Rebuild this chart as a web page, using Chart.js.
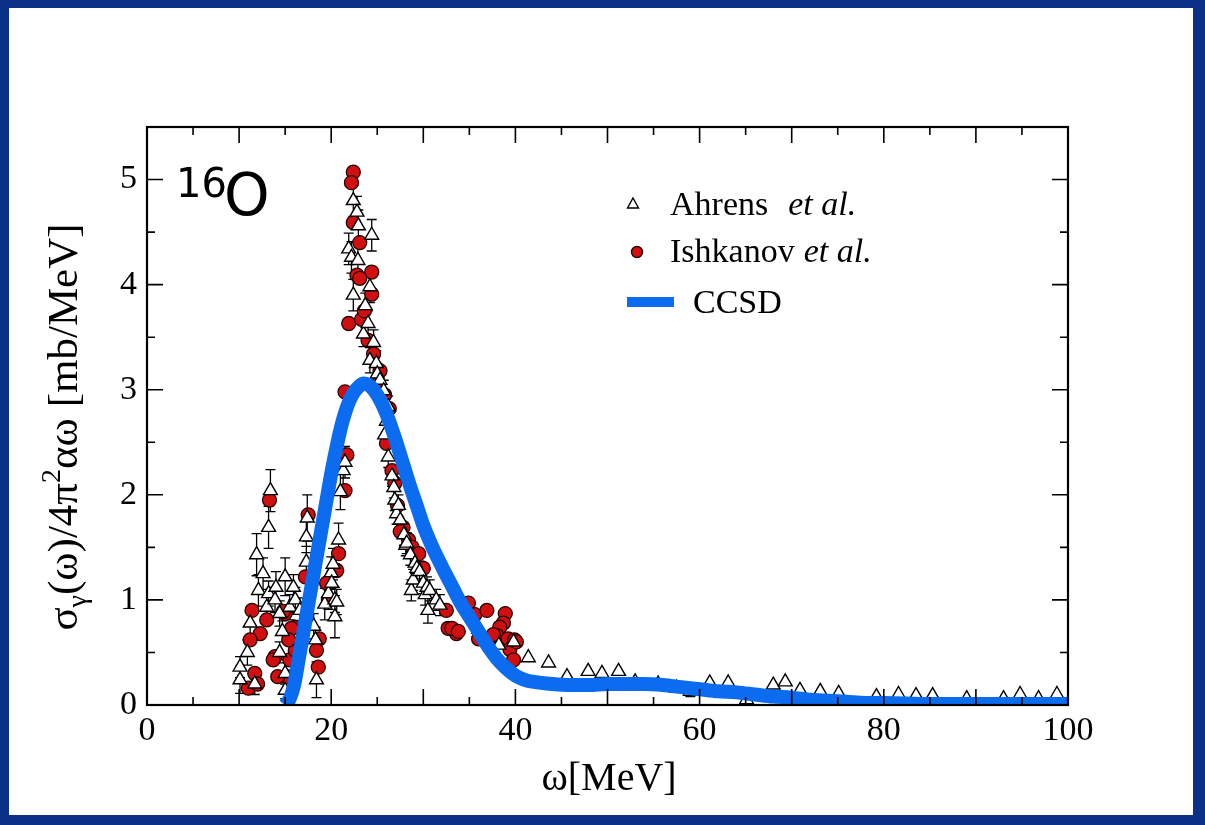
<!DOCTYPE html>
<html>
<head>
<meta charset="utf-8">
<script src="https://cdn.jsdelivr.net/npm/chart.js@4.4.1/dist/chart.umd.min.js"></script>
<style>
html, body { margin: 0; padding: 0; background: #0a3185; }
#wrap { position: relative; width: 1205px; height: 825px; overflow: hidden; }
#panel { position: absolute; left: 9px; top: 8px; width: 1184px; height: 807px; background: #fff; }
#c { position: absolute; left: 0; top: 0; }
</style>
</head>
<body>
<div id="wrap">
  <div id="panel"></div>
  <canvas id="c" width="1205" height="825"></canvas>
</div>
<script>
'use strict';

// axis ticks
var xTicks = [0, 20, 40, 60, 80, 100];
var yTicks = [0, 1, 2, 3, 4, 5];

// CCSD curve
var ccsdOmega = [15, 15.5, 16, 16.5, 17, 17.5, 18, 18.5, 19, 19.5, 20, 20.5, 21, 21.5, 22, 22.5, 23, 23.5, 24, 24.5,
  25, 25.5, 26, 26.5, 27, 27.5, 28, 28.5, 29, 29.5, 30, 31, 32, 33, 34, 35, 36, 37, 38, 39, 40, 41, 42, 44, 46, 48,
  50, 52, 54, 56, 58, 60, 62, 64, 66, 68, 70, 72, 74, 76, 78, 80, 85, 90, 95, 100];
var ccsdValue = [0, 0.06, 0.2, 0.45, 0.7, 0.95, 1.2, 1.45, 1.7, 1.95, 2.2, 2.42, 2.62, 2.78, 2.9, 2.98, 3.03, 3.06, 3.05, 3.01,
  2.95, 2.87, 2.77, 2.65, 2.52, 2.38, 2.24, 2.1, 1.97, 1.84, 1.71, 1.5, 1.32, 1.15, 0.98, 0.84, 0.7, 0.56, 0.44, 0.35, 0.28, 0.24, 0.22, 0.2, 0.19, 0.19,
  0.2, 0.2, 0.2, 0.19, 0.17, 0.15, 0.13, 0.12, 0.1, 0.08, 0.07, 0.05, 0.04, 0.03, 0.02, 0.02, 0.01, 0.01, 0.01, 0.01];

// Ahrens et al.  [omega, value, error]
var ahrens = [
  [10.1, 0.24, 0.13], [10.1, 0.36, 0.1], [10.9, 0.5, 0.12], [11.2, 0.78, 0.12], [11.7, 0.2, 0.1], [11.9, 1.43, 0.2],
  [12.1, 1.09, 0.15], [12.6, 1.25, 0.15], [13.0, 0.93, 0.12], [13.2, 1.69, 0.2], [13.2, 1.06, 0.12], [13.4, 2.04, 0.2],
  [13.9, 1.0, 0.12], [14.0, 1.12, 0.15], [14.4, 0.87, 0.12], [14.4, 0.5, 0.1], [14.7, 0.7, 0.1], [15.0, 1.22, 0.18],
  [15.0, 0.3, 0.1], [15.0, 0.14, 0.08], [15.5, 0.93, 0.12], [15.9, 1.12, 0.12], [16.1, 1.0, 0.12], [16.6, 0.9, 0.12],
  [17.3, 1.6, 0.15], [17.3, 1.36, 0.15], [17.4, 1.78, 0.22], [18.1, 0.75, 0.12], [18.3, 0.62, 0.12], [18.4, 0.24, 0.17],
  [19.3, 0.96, 0.15], [19.7, 1.06, 0.15], [20.0, 1.26, 0.15], [20.05, 1.16, 0.12], [20.2, 1.34, 0.15], [20.4, 1.0, 0.12],
  [20.4, 0.84, 0.2], [20.6, 0.98, 0.12], [20.8, 1.57, 0.16], [21.0, 2.03, 0.17], [21.3, 2.23, 0.15], [21.5, 2.31, 0.15],
  [21.9, 4.34, 0.15], [22.2, 4.26, 0.15], [22.4, 4.8, 0.15], [22.4, 3.9, 0.15], [22.8, 4.69, 0.15], [22.95, 4.56, 0.15],
  [22.9, 4.23, 0.15], [23.5, 3.53, 0.12], [23.7, 3.8, 0.12], [24.0, 3.63, 0.12], [24.2, 3.98, 0.15], [24.2, 3.28, 0.12],
  [24.4, 4.47, 0.15], [24.6, 3.45, 0.12], [24.9, 3.25, 0.12], [25.0, 3.15, 0.1], [25.3, 3.09, 0.12], [25.7, 2.99, 0.1],
  [25.8, 2.57, 0.1], [26.0, 2.7, 0.1], [26.2, 2.84, 0.1], [26.2, 2.36, 0.1], [26.6, 2.18, 0.1], [26.8, 2.07, 0.1],
  [26.9, 1.95, 0.1], [27.1, 1.82, 0.1], [27.3, 1.9, 0.1], [27.5, 1.76, 0.1], [27.9, 1.62, 0.1], [28.1, 1.52, 0.1],
  [28.2, 1.54, 0.1], [28.6, 1.43, 0.1], [28.7, 1.09, 0.1], [28.9, 1.19, 0.1], [29.1, 1.35, 0.1], [29.3, 1.3, 0.1],
  [29.6, 1.27, 0.1], [30.0, 1.16, 0.1], [30.2, 1.05, 0.1], [30.4, 1.12, 0.1], [30.5, 0.9, 0.12], [30.7, 1.09, 0.1],
  [31.4, 1.0, 0.1], [31.8, 0.95, 0.1],
  [36.0, 0.72, 0], [38.2, 0.57, 0], [39.8, 0.6, 0], [41.4, 0.45, 0], [43.6, 0.4, 0], [45.6, 0.27, 0], [47.9, 0.32, 0],
  [49.4, 0.3, 0], [51.2, 0.32, 0], [53.0, 0.22, 0.04], [55.5, 0.2, 0.04], [57.5, 0.16, 0.04], [59.0, 0.13, 0.05],
  [61.1, 0.21, 0], [63.1, 0.21, 0], [65.1, 0.05, 0.04], [68.0, 0.19, 0], [69.3, 0.22, 0], [70.9, 0.14, 0], [73.1, 0.13, 0],
  [75.1, 0.11, 0], [79.2, 0.08, 0], [81.6, 0.1, 0], [83.5, 0.09, 0], [85.3, 0.09, 0], [89.0, 0.06, 0], [93.0, 0.06, 0],
  [94.8, 0.1, 0], [96.8, 0.06, 0], [98.8, 0.1, 0]
];

// Ishkanov et al.  [omega, value]
var ishkanov = [
  [22.4, 5.07], [22.2, 4.97], [22.4, 4.59], [23.1, 4.4], [22.8, 4.09], [24.4, 4.12], [24.4, 3.91], [23.1, 4.06],
  [21.9, 3.63], [23.3, 3.67], [23.6, 3.75], [24.0, 3.47], [24.6, 3.34], [25.0, 3.05], [25.3, 3.18], [21.5, 2.98],
  [25.8, 2.95], [26.3, 2.82], [26.0, 2.49], [26.6, 2.23], [26.9, 2.11], [27.2, 1.9], [27.8, 1.69], [27.5, 1.65],
  [28.4, 1.57], [28.8, 1.5], [29.5, 1.44], [30.0, 1.3], [21.7, 2.38],
  [21.5, 2.04], [20.8, 1.44], [20.6, 1.28], [13.3, 1.95], [17.5, 1.81], [17.2, 1.22], [19.5, 1.16], [19.7, 1.0],
  [18.7, 0.63], [18.4, 0.52], [18.6, 0.36], [11.4, 0.9], [12.3, 0.68], [11.2, 0.62], [15.0, 0.87], [16.1, 0.74],
  [13.9, 0.46], [13.7, 0.43], [15.5, 0.43], [15.2, 0.27], [11.0, 0.16], [11.7, 0.3], [13.0, 0.81], [14.8, 0.89],
  [16.1, 0.52], [14.2, 0.27], [15.7, 0.73], [15.4, 0.62], [12.0, 0.2],
  [32.5, 0.9], [32.7, 0.73], [33.6, 0.68], [34.9, 0.97], [35.6, 0.86], [36.9, 0.9], [38.9, 0.87], [38.7, 0.78],
  [38.3, 0.74], [33.1, 0.73], [33.8, 0.7], [36.0, 0.63], [38.0, 0.66], [39.2, 0.63], [37.2, 0.55], [39.9, 0.62],
  [39.4, 0.53], [39.8, 0.43], [37.6, 0.67], [40.1, 0.6]
];

var blue = '#0b6cf0';
var serif = '"Liberation Serif", "Times New Roman", serif';

function pts(arr) {
  return arr.map(function (p) { return { x: p[0], y: p[1] }; });
}

// error bars for Ahrens points
var errorBars = {
  id: 'errorBars',
  beforeDatasetsDraw: function (chart) {
    var ctx = chart.ctx, xs = chart.scales.x, ys = chart.scales.y;
    ctx.save();
    ctx.strokeStyle = '#000';
    ctx.lineWidth = 1.3;
    ctx.beginPath();
    ahrens.forEach(function (p) {
      if (!p[2]) return;
      var px = xs.getPixelForValue(p[0]);
      var lo = ys.getPixelForValue(Math.max(0, p[1] - p[2]));
      var hi = ys.getPixelForValue(p[1] + p[2]);
      ctx.moveTo(px, lo); ctx.lineTo(px, hi);
      ctx.moveTo(px - 5, lo); ctx.lineTo(px + 5, lo);
      ctx.moveTo(px - 5, hi); ctx.lineTo(px + 5, hi);
    });
    ctx.stroke();
    ctx.restore();
  }
};

// boxed frame with inward ticks on all sides
var frame = {
  id: 'frame',
  afterDatasetsDraw: function (chart) {
    var ctx = chart.ctx, a = chart.chartArea, xs = chart.scales.x, ys = chart.scales.y;
    ctx.save();
    ctx.strokeStyle = '#000';
    ctx.lineWidth = 1.6;
    ctx.beginPath();
    for (var w = 5; w < 100; w += 5) {
      var px = xs.getPixelForValue(w), L = (w % 10 === 0) ? 16 : 8;
      ctx.moveTo(px, a.bottom); ctx.lineTo(px, a.bottom - L);
      ctx.moveTo(px, a.top); ctx.lineTo(px, a.top + L);
    }
    for (var v = 0.5; v < 5.5; v += 0.5) {
      var py = ys.getPixelForValue(v), M = (v % 1 === 0) ? 16 : 8;
      ctx.moveTo(a.left, py); ctx.lineTo(a.left + M, py);
      ctx.moveTo(a.right, py); ctx.lineTo(a.right - M, py);
    }
    ctx.stroke();
    ctx.lineWidth = 2.2;
    ctx.strokeRect(a.left, a.top, a.right - a.left, a.bottom - a.top);
    ctx.restore();
  }
};

function richText(ctx, parts, x, y) {
  var cx = x;
  parts.forEach(function (p) {
    ctx.font = (p.italic ? 'italic ' : '') + p.size + 'px ' + (p.family || serif);
    ctx.fillText(p.t, cx, y + (p.dy || 0));
    cx += ctx.measureText(p.t).width;
  });
  return cx;
}

function richWidth(ctx, parts) {
  var w = 0;
  parts.forEach(function (p) {
    ctx.font = (p.italic ? 'italic ' : '') + p.size + 'px ' + (p.family || serif);
    w += ctx.measureText(p.t).width;
  });
  return w;
}

// titles, legend and nucleus label
var annotations = {
  id: 'annotations',
  afterDraw: function (chart) {
    var ctx = chart.ctx;
    ctx.save();
    ctx.fillStyle = '#000';
    ctx.textBaseline = 'alphabetic';
    ctx.textAlign = 'left';

    // y title
    var yParts = [
      { t: 'σ', size: 43 }, { t: 'γ', size: 28, dy: 9 }, { t: '(ω)/4π', size: 43 },
      { t: '2', size: 28, dy: -17 }, { t: 'αω [mb/MeV]', size: 43 }
    ];
    ctx.save();
    ctx.translate(77, 427);
    ctx.rotate(-Math.PI / 2);
    richText(ctx, yParts, -richWidth(ctx, yParts) / 2, 0);
    ctx.restore();

    // x title
    ctx.font = '40px ' + serif;
    ctx.textAlign = 'center';
    ctx.fillText('ω[MeV]', 609, 790);
    ctx.textAlign = 'left';

    // nucleus label
    richText(ctx, [
      { t: '16', size: 40, family: '"DejaVu Sans", sans-serif' }
    ], 176, 197);
    richText(ctx, [
      { t: 'O', size: 58, family: '"DejaVu Sans", sans-serif' }
    ], 224, 215);

    // legend
    var ds = chart.data.datasets;
    ctx.lineWidth = 1.4;
    ctx.strokeStyle = '#000';
    ctx.fillStyle = '#fff';
    ctx.beginPath();
    ctx.moveTo(633, 198); ctx.lineTo(638.5, 208); ctx.lineTo(627.5, 208); ctx.closePath();
    ctx.fill(); ctx.stroke();
    ctx.fillStyle = '#d01010';
    ctx.strokeStyle = '#2a0000';
    ctx.beginPath();
    ctx.arc(637, 252, 5.5, 0, Math.PI * 2);
    ctx.fill(); ctx.stroke();
    ctx.fillStyle = blue;
    ctx.fillRect(627, 297, 47, 10);

    ctx.fillStyle = '#000';
    var nx = richText(ctx, [{ t: ds[1].label.split(' ')[0], size: 34 }], 670, 215);
    richText(ctx, [{ t: 'et al.', size: 34, italic: true }], nx + 20, 215);
    nx = richText(ctx, [{ t: ds[2].label.split(' ')[0], size: 34 }], 670, 262);
    richText(ctx, [{ t: 'et al.', size: 34, italic: true }], nx + 9, 262);
    richText(ctx, [{ t: ds[0].label, size: 34 }], 693, 313);
    ctx.restore();
  }
};

var ctx = document.getElementById('c').getContext('2d');
var chart = new Chart(ctx, {
  type: 'scatter',
  data: {
    datasets: [
      {
        label: 'CCSD',
        type: 'line',
        data: pts(ccsdOmega.map(function (w, i) { return [w, ccsdValue[i]]; })),
        borderColor: blue,
        borderWidth: 14,
        pointRadius: 0,
        fill: false,
        cubicInterpolationMode: 'monotone',
        order: 0
      },
      {
        label: 'Ahrens et al.',
        data: pts(ahrens),
        pointStyle: 'triangle',
        pointRadius: 8,
        backgroundColor: '#ffffff',
        borderColor: '#000000',
        borderWidth: 1.4,
        order: 1
      },
      {
        label: 'Ishkanov et al.',
        data: pts(ishkanov),
        pointStyle: 'circle',
        pointRadius: 7,
        backgroundColor: '#d01010',
        borderColor: '#2a0000',
        borderWidth: 1.3,
        order: 2
      }
    ]
  },
  options: {
    responsive: false,
    animation: false,
    layout: { padding: { left: 0, top: 127, right: 137, bottom: 0 } },
    plugins: { legend: { display: false }, tooltip: { enabled: false } },
    scales: {
      x: {
        type: 'linear', min: 0, max: 100,
        grid: { display: false, drawTicks: false },
        border: { display: false },
        ticks: { color: '#000', font: { family: serif, size: 34 }, padding: 6, maxRotation: 0 },
        afterBuildTicks: function (s) { s.ticks = xTicks.map(function (v) { return { value: v }; }); },
        afterFit: function (s) { s.height = 120; }
      },
      y: {
        type: 'linear', min: 0, max: 5.5,
        grid: { display: false, drawTicks: false },
        border: { display: false },
        ticks: { color: '#000', font: { family: serif, size: 34 }, padding: 10 },
        afterBuildTicks: function (s) { s.ticks = yTicks.map(function (v) { return { value: v }; }); },
        afterFit: function (s) { s.width = 147; }
      }
    }
  },
  plugins: [errorBars, frame, annotations]
});
</script>
</body>
</html>
